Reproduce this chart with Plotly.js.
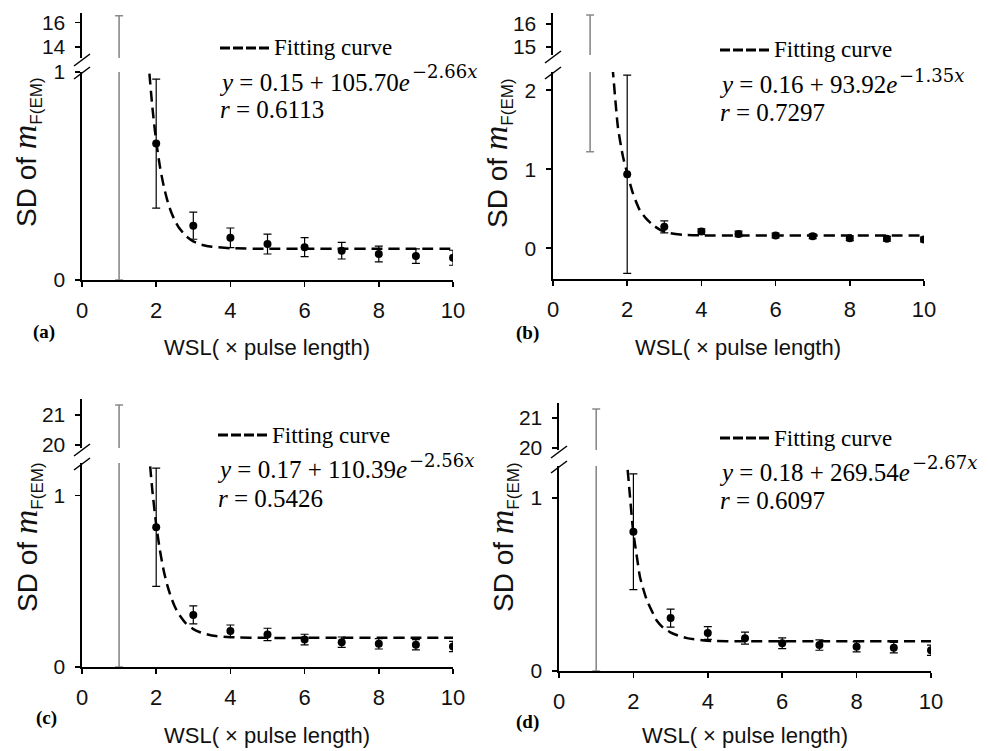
<!DOCTYPE html>
<html>
<head>
<meta charset="utf-8">
<script src="https://cdn.plot.ly/plotly-3.0.1.min.js"></script>
<style>html,body{margin:0;padding:0;background:#fff;}#chart{width:989px;height:751px;}</style>
</head>
<body>
<div id="chart"></div>
<script>
// ---------- data ----------
const wsl = [1, 2, 3, 4, 5, 6, 7, 8, 9, 10];
const xTicks = [0, 2, 4, 6, 8, 10];

// panel (a)
const aMean = [8.29, 0.656, 0.261, 0.203, 0.173, 0.158, 0.141, 0.125, 0.115, 0.107];
const aErr  = [8.29, 0.31, 0.065, 0.047, 0.048, 0.046, 0.040, 0.038, 0.035, 0.036];
const aCurveX = [1.75, 1.8, 1.9, 2.0, 2.1, 2.2, 2.3, 2.4, 2.5, 2.6, 2.8, 3.0, 3.2, 3.5, 4, 5, 6, 7, 8, 9, 10];
const aCurveY = [1.155, 1.030, 0.825, 0.667, 0.546, 0.454, 0.383, 0.328, 0.287, 0.255, 0.212, 0.186, 0.171, 0.160, 0.153, 0.150, 0.150, 0.150, 0.150, 0.150, 0.150];
const aLowTicks = [0, 1], aUpTicks = [14, 16];

// panel (b)
const bMean = [8.805, 0.935, 0.27, 0.21, 0.18, 0.16, 0.15, 0.125, 0.12, 0.11];
const bErr  = [7.585, 1.255, 0.075, 0.035, 0.035, 0.030, 0.030, 0.030, 0.030, 0.030];
const bCurveX = [1.6, 1.62, 1.75, 1.89, 2.0, 2.15, 2.34, 2.5, 2.7, 2.9, 3.15, 3.5, 4, 5, 6, 7, 8, 9, 10];
const bCurveY = [2.30, 2.21, 1.53, 1.15, 0.95, 0.70, 0.48, 0.38, 0.29, 0.23, 0.19, 0.17, 0.162, 0.16, 0.16, 0.16, 0.16, 0.16, 0.16];
const bLowTicks = [0, 1, 2], bUpTicks = [15, 16];

// panel (c)
const cMean = [10.665, 0.815, 0.304, 0.21, 0.19, 0.16, 0.145, 0.135, 0.13, 0.12];
const cErr  = [10.665, 0.345, 0.053, 0.035, 0.036, 0.031, 0.030, 0.030, 0.030, 0.030];
const cCurveX = [1.8, 1.85, 1.9, 2.0, 2.1, 2.2, 2.3, 2.4, 2.5, 2.6, 2.8, 3.0, 3.2, 3.5, 4, 5, 6, 7, 8, 9, 10];
const cCurveY = [1.27, 1.139, 1.022, 0.830, 0.681, 0.565, 0.476, 0.407, 0.353, 0.312, 0.255, 0.221, 0.201, 0.184, 0.174, 0.170, 0.170, 0.170, 0.170, 0.170, 0.170];
const cLowTicks = [0, 1], cUpTicks = [20, 21];

// panel (d)
const dMean = [10.65, 0.805, 0.306, 0.22, 0.19, 0.16, 0.15, 0.14, 0.135, 0.12];
const dErr  = [10.65, 0.335, 0.052, 0.037, 0.035, 0.031, 0.030, 0.030, 0.030, 0.030];
const dCurveX = [1.8, 1.83, 1.9, 1.99, 2.1, 2.18, 2.36, 2.5, 2.63, 2.8, 2.98, 3.2, 3.44, 3.98, 5, 6, 7, 8, 9, 10];
const dCurveY = [1.26, 1.20, 1.03, 0.815, 0.65, 0.54, 0.41, 0.345, 0.29, 0.25, 0.225, 0.205, 0.19, 0.175, 0.172, 0.172, 0.172, 0.172, 0.172, 0.172];
const dLowTicks = [0, 1], dUpTicks = [20, 21];

// texts
const panelLabels = ['(a)', '(b)', '(c)', '(d)'];
const eqMain = [
  '<i>y</i> = 0.15 + 105.70<i>e</i>',
  '<i>y</i> = 0.16 + 93.92<i>e</i>',
  '<i>y</i> = 0.17 + 110.39<i>e</i>',
  '<i>y</i> = 0.18 + 269.54<i>e</i>'
];
const eqExp = ['−2.66<i>x</i>', '−1.35<i>x</i>', '−2.56<i>x</i>', '−2.67<i>x</i>'];
const rTexts = ['<i>r</i> = 0.6113', '<i>r</i> = 0.7297', '<i>r</i> = 0.5426', '<i>r</i> = 0.6097'];
const legendText = 'Fitting curve';
const xTitle = 'WSL( × pulse length)';
const yTitle = 'SD of <span style="font-family:Liberation Serif;font-size:34px"><i>m</i></span><sub><span style="font-size:17px">F(EM)</span></sub>';

// ---------- layout geometry (pixels) ----------
const W = 989, H = 751;
const PX = v => v / W, PY = v => 1 - v / H;
const SANS = 'Liberation Sans, Arial, sans-serif';
const SERIF = 'Liberation Serif, Times New Roman, serif';
const SERIF_WIDE = 'DejaVu Serif, Liberation Serif, serif';

const panels = [
  {mean: aMean, err: aErr, cx: aCurveX, cy: aCurveY, lt: aLowTicks, ut: aUpTicks,
   xd: [82, 453], lo: [280, 72], lr: [0, 1.0], up: [58, 13], ur: [13.1, 16.8],
   leg: [220, 48], eq: [218, 82], r: [218, 109], lab: [44, 332], xt: [267, 347], yt: [26, 152]},
  {mean: bMean, err: bErr, cx: bCurveX, cy: bCurveY, lt: bLowTicks, ut: bUpTicks,
   xd: [553, 924], lo: [279, 72], lr: [-0.39, 2.23], up: [55, 13], ur: [14.65, 16.48],
   leg: [720, 50], eq: [718, 85], r: [718, 113], lab: [527, 333], xt: [738, 347], yt: [497, 153]},
  {mean: cMean, err: cErr, cx: cCurveX, cy: cCurveY, lt: cLowTicks, ut: cUpTicks,
   xd: [82, 453], lo: [667, 463], lr: [0, 1.19], up: [448, 399], ur: [19.9, 21.53],
   leg: [218, 435], eq: [216, 470], r: [216, 498], lab: [46, 718], xt: [267, 735], yt: [27, 537]},
  {mean: dMean, err: dErr, cx: dCurveX, cy: dCurveY, lt: dLowTicks, ut: dUpTicks,
   xd: [559, 931], lo: [671, 466], lr: [0, 1.185], up: [450, 403], ur: [19.93, 21.5],
   leg: [720, 438], eq: [718, 472], r: [718, 500], lab: [527, 722], xt: [745, 735], yt: [503, 537]}
];

const traces = [];
const layout = {
  width: W, height: H, margin: {l: 0, r: 0, t: 0, b: 0},
  paper_bgcolor: '#fff', plot_bgcolor: 'rgba(0,0,0,0)',
  showlegend: false, annotations: [], shapes: []
};
const eqIdx = [], supIdx = [];

panels.forEach((p, i) => {
  const xn = i + 1;
  const yl = 2 * i + 1, yu = 2 * i + 2;
  const xk = 'xaxis' + (xn === 1 ? '' : xn);
  const ylk = 'yaxis' + (yl === 1 ? '' : yl);
  const yuk = 'yaxis' + yu;
  const xr = 'x' + (xn === 1 ? '' : xn);
  const ylr = 'y' + (yl === 1 ? '' : yl);
  const yur = 'y' + yu;

  layout[xk] = {
    domain: [PX(p.xd[0]), PX(p.xd[1])], range: [0, 10], anchor: ylr,
    tickvals: xTicks, showline: true, linewidth: 2, linecolor: '#000',
    ticks: 'outside', ticklen: 5, tickwidth: 1.5, tickcolor: '#000',
    showgrid: false, zeroline: false, fixedrange: true,
    tickfont: {family: SANS, size: 22, color: '#111'}, ticklabelstandoff: 5
  };
  const yCommon = {
    anchor: xr, showline: true, linewidth: 2.5, linecolor: '#000',
    ticks: 'outside', ticklen: 5, tickwidth: 1.5, tickcolor: '#000',
    showgrid: false, zeroline: false, fixedrange: true,
    tickfont: {family: SANS, size: 21, color: '#111'}, ticklabelstandoff: 5
  };
  layout[ylk] = Object.assign({}, yCommon, {
    domain: [PY(p.lo[0]), PY(p.lo[1])], range: p.lr, tickvals: p.lt
  });
  layout[yuk] = Object.assign({}, yCommon, {
    domain: [PY(p.up[0]), PY(p.up[1])], range: p.ur, tickvals: p.ut
  });

  // grey error bar at WSL = 1 (value lies in the axis break), drawn in both parts
  [ylr, yur].forEach(ya => {
    traces.push({
      type: 'scatter', mode: 'markers', xaxis: xr, yaxis: ya,
      x: wsl.slice(0, 1), y: p.mean.slice(0, 1),
      marker: {color: '#000', size: 8},
      error_y: {type: 'data', array: p.err.slice(0, 1), visible: true,
                color: '#8a8a8a', thickness: 1.6, width: 4},
      hoverinfo: 'skip'
    });
  });
  // fitting curve
  traces.push({
    type: 'scatter', mode: 'lines', xaxis: xr, yaxis: ylr,
    x: p.cx, y: p.cy,
    line: {color: '#000', width: 2.5, dash: '11px,6px', shape: 'spline', smoothing: 0.6},
    hoverinfo: 'skip'
  });
  // measured points
  traces.push({
    type: 'scatter', mode: 'markers', xaxis: xr, yaxis: ylr,
    x: wsl.slice(1), y: p.mean.slice(1),
    marker: {color: '#000', size: 8},
    error_y: {type: 'data', array: p.err.slice(1), visible: true,
              color: '#000', thickness: 1.2, width: 4},
    hoverinfo: 'skip'
  });

  // axis break slashes
  const ax = p.xd[0];
  [p.up[0] + 2, p.lo[1] + 1].forEach(yy => {
    layout.shapes.push({type: 'line', xref: 'paper', yref: 'paper',
      x0: PX(ax - 8), y0: PY(yy + 6), x1: PX(ax + 8), y1: PY(yy - 6),
      line: {color: '#000', width: 1.5}});
  });

  // legend sample
  layout.shapes.push({type: 'line', xref: 'paper', yref: 'paper',
    x0: PX(p.leg[0]), y0: PY(p.leg[1]), x1: PX(p.leg[0] + 51), y1: PY(p.leg[1]),
    line: {color: '#000', width: 3, dash: '10px,3px'}});

  const A = layout.annotations;
  A.push({xref: 'paper', yref: 'paper', x: PX(p.leg[0] + 52), y: PY(p.leg[1]),
    xanchor: 'left', yanchor: 'middle', showarrow: false, text: legendText,
    font: {family: SERIF, size: 23, color: '#000'}});
  eqIdx.push(A.length);
  A.push({xref: 'paper', yref: 'paper', x: PX(p.eq[0]), y: PY(p.eq[1]),
    xanchor: 'left', yanchor: 'middle', showarrow: false, text: eqMain[i],
    font: {family: SERIF, size: 25, color: '#000'}, borderpad: 0});
  supIdx.push(A.length);
  A.push({xref: 'paper', yref: 'paper', x: PX(p.eq[0] + 186), y: PY(p.eq[1] - 10),
    xanchor: 'left', yanchor: 'middle', showarrow: false, text: eqExp[i],
    font: {family: SERIF_WIDE, size: 18, color: '#000'}, borderpad: 0});
  A.push({xref: 'paper', yref: 'paper', x: PX(p.r[0]), y: PY(p.r[1]),
    xanchor: 'left', yanchor: 'middle', showarrow: false, text: rTexts[i],
    font: {family: SERIF, size: 25, color: '#000'}});
  A.push({xref: 'paper', yref: 'paper', x: PX(p.lab[0]), y: PY(p.lab[1]),
    xanchor: 'center', yanchor: 'middle', showarrow: false, text: '<b>' + panelLabels[i] + '</b>',
    font: {family: SERIF, size: 19, color: '#000'}});
  A.push({xref: 'paper', yref: 'paper', x: PX(p.xt[0]), y: PY(p.xt[1]),
    xanchor: 'center', yanchor: 'middle', showarrow: false, text: xTitle,
    font: {family: SANS, size: 22, color: '#111'}});
  A.push({xref: 'paper', yref: 'paper', x: PX(p.yt[0]), y: PY(p.yt[1]),
    xanchor: 'center', yanchor: 'middle', showarrow: false, textangle: -90, text: yTitle,
    font: {family: SANS, size: 28, color: '#111'}});
});

const gd = document.getElementById('chart');
Plotly.newPlot(gd, traces, layout, {staticPlot: true, displayModeBar: false}).then(() => {
  // place each exponent right after the end of its equation text
  const base = gd.getBoundingClientRect();
  const upd = {};
  eqIdx.forEach((k, j) => {
    const el = gd.querySelector('.annotation[data-index="' + k + '"] .annotation-text');
    if (!el) return;
    const right = el.getBoundingClientRect().right - base.left;
    upd['annotations[' + supIdx[j] + '].x'] = PX(right + 1);
  });
  return Plotly.relayout(gd, upd);
});
</script>
</body>
</html>
